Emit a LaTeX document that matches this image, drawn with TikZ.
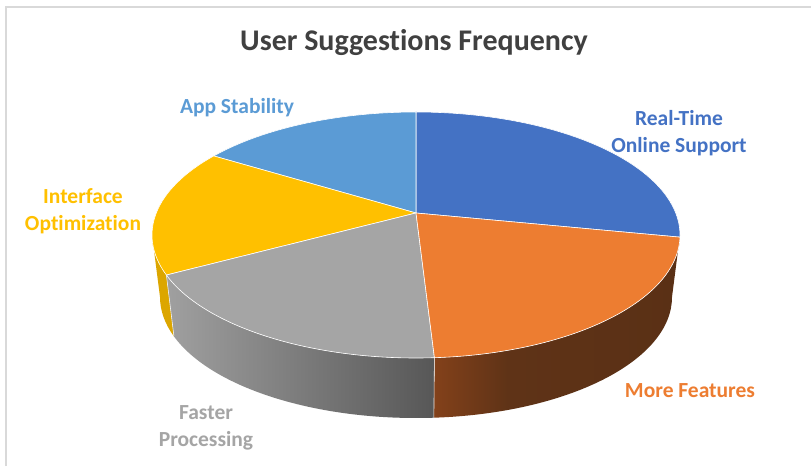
\documentclass[tikz,border=0pt]{standalone}
\usepackage{fontspec}
\setmainfont[Ligatures=CommonOff]{Carlito}
\definecolor{rtblue}{HTML}{4472C4}
\definecolor{orng}{HTML}{ED7D31}
\definecolor{gry}{HTML}{A5A5A5}
\definecolor{ylw}{HTML}{FFC000}
\definecolor{ltblue}{HTML}{5B9BD5}
\definecolor{ttl}{HTML}{404040}
\definecolor{framec}{HTML}{D9D9D9}
\definecolor{ylwside}{HTML}{DCA600}
\definecolor{gryL}{HTML}{A0A0A0}
\definecolor{gryR}{HTML}{575757}
\definecolor{brnL}{HTML}{83411A}
\definecolor{brnM}{HTML}{5F3317}
\definecolor{brnR}{HTML}{5A3015}
% brown wall: light only near its left end, dark over the rest
\pgfdeclarehorizontalshading{brnwall}{100bp}{color(0bp)=(brnL); color(25bp)=(brnL);
  color(40bp)=(brnM); color(75bp)=(brnR); color(100bp)=(brnR)}
\begin{document}
\begin{tikzpicture}[x=1pt,y=1pt,
  slice/.style={draw=white, line width=0.6pt, line join=round},
  seam/.style={draw=white!88!gray, line width=0.6pt},
  lbl/.style={font=\bfseries\fontsize{21.5}{26.5}\selectfont, align=center}]
\useasboundingbox (0,0) rectangle (811,466);
\fill[white] (0,0) rectangle (811,466);
% chart frame
\draw[framec, line width=1.6pt] (6,0) -- (6,459) -- (811,459);

% ellipse radii: top face and bottom rim
\def\rxT{264}\def\ryT{123}
\def\rxB{256}\def\ryB{121}
\coordinate (TC) at (416,231);
\coordinate (BC) at (416,169);
\coordinate (O) at (416,253);
\foreach \a in {90,140,180,199,274,359,360}
  \path (TC) ++(\a:\rxT\space and \ryT) coordinate (T\a);
\foreach \a in {180,199,274,360}
  \path (BC) ++(\a:\rxB\space and \ryB) coordinate (B\a);

% side walls
\fill[ylwside] (T180) arc[start angle=180,end angle=199,x radius=\rxT,y radius=\ryT]
  -- (B199) arc[start angle=199,end angle=180,x radius=\rxB,y radius=\ryB] -- cycle;
\shade[left color=gryL, right color=gryR] (T199)
  arc[start angle=199,end angle=274,x radius=\rxT,y radius=\ryT]
  -- (B274) arc[start angle=274,end angle=199,x radius=\rxB,y radius=\ryB] -- cycle;
\shade[shading=brnwall] (T274)
  arc[start angle=274,end angle=360,x radius=\rxT,y radius=\ryT]
  -- (B360) arc[start angle=360,end angle=274,x radius=\rxB,y radius=\ryB] -- cycle;
\draw[seam] (T199) -- (B199);
\draw[seam] (T274) -- (B274);

% top faces
\path[slice, fill=rtblue] (O) -- (T359)
  arc[start angle=359,end angle=450,x radius=\rxT,y radius=\ryT] -- cycle;
\path[slice, fill=ltblue] (O) -- (T90)
  arc[start angle=90,end angle=140,x radius=\rxT,y radius=\ryT] -- cycle;
\path[slice, fill=ylw] (O) -- (T140)
  arc[start angle=140,end angle=199,x radius=\rxT,y radius=\ryT] -- cycle;
\path[slice, fill=gry] (O) -- (T199)
  arc[start angle=199,end angle=274,x radius=\rxT,y radius=\ryT] -- cycle;
\path[slice, fill=orng] (O) -- (T274)
  arc[start angle=274,end angle=359,x radius=\rxT,y radius=\ryT] -- cycle;

% title and labels
\node[font=\bfseries\fontsize{30}{34}\selectfont, text=ttl] (title) at (414,423) {User Suggestions Frequency};
\node[lbl, text=ltblue] (lApp) at (237,358) {App Stability};
\node[lbl, text=rtblue] (lRT) at (679,333) {Real-Time\\Online Support};
\node[lbl, text=ylw] (lIO) at (83,255) {Interface\\Optimization};
\node[lbl, text=gry] (lFP) at (206,38) {Faster\\Processing};
\node[lbl, text=orng] (lMF) at (690,75) {More Features};
\end{tikzpicture}
\end{document}
